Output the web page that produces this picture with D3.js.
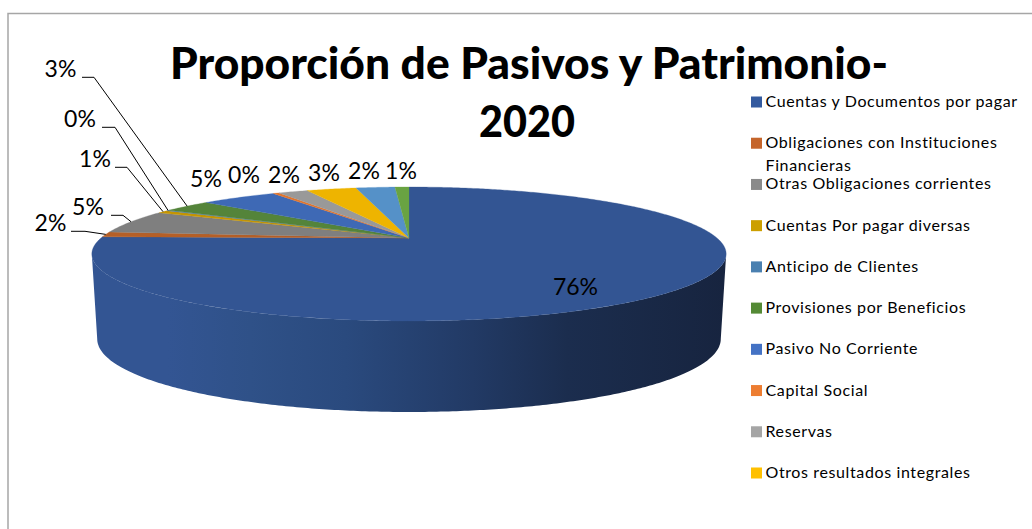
<!DOCTYPE html>
<html>
<head>
<meta charset="utf-8">
<style>
html,body{margin:0;padding:0;background:#fff}
svg{display:block}
text{font-family:Lato,"Open Sans",sans-serif;fill:#000}
</style>
<script src="https://d3js.org/d3.v7.min.js"></script>
</head>
<body>
<script>
const titleLines = ["Proporción de Pasivos y Patrimonio-", "2020"];
const legendLabels = [
  ["Cuentas y Documentos por pagar"],
  ["Obligaciones con Instituciones", "Financieras"],
  ["Otras Obligaciones corrientes"],
  ["Cuentas Por pagar diversas"],
  ["Anticipo de Clientes"],
  ["Provisiones por Beneficios"],
  ["Pasivo No Corriente"],
  ["Capital Social"],
  ["Reservas"],
  ["Otros resultados integrales"]
];
const legendColors = ["#335a9f","#c5652b","#8a8a8a","#cc9f00","#4a80b0","#548a35","#4472c4","#ed7d31","#a5a5a5","#ffc000"];
const sliceValues = [75.3, 1.25, 5.75, 0.7, 0.2, 3.05, 4.85, 0.4, 1.9, 3.2, 2.5, 0.9];
const sliceLabels = ["76%","2%","5%","1%","0%","3%","5%","0%","2%","3%","2%","1%"];
const sliceColors = ["#335593","#b55f27","#7f7f7f","#c69500","#4a7fb0","#54843a","#3e69b5","#e0752e","#999999","#eeb400","#5591c8","#69a342"];

const W = 1032, H = 529;
// layout: label anchor (centre x, baseline y) and leader elbow length per slice
const labelPlace = [
  {x:575.5,y:295},{x:50.5,y:231,lead:[71,85]},{x:88,y:215,lead:[111,123]},
  {x:95,y:167,lead:[115,127]},{x:80,y:127,lead:[102,115]},{x:60.5,y:77,lead:[82,94]},
  {x:206,y:187},{x:244,y:183},{x:284,y:183},{x:324,y:181},{x:364,y:179},{x:401,y:179}
];

const svg = d3.select("body").append("svg").attr("width",W).attr("height",H);

// chart frame
svg.append("path").attr("d","M8,529V13.5H1032").attr("fill","none").attr("stroke","#a6a6a6").attr("stroke-width",1.5);

// perspective projection of the pie's unit disc
const cx = 409, cy = 238, R = 308, persp = 0.2388, tilt = -6.34;
const project = (r, a) => {
  const s = Math.sin(a)*r, v = Math.cos(a)*r, w = 1 + persp*v;
  return [cx + R*s/w, (tilt*v + cy)/w];
};
const lowerRim = a => {
  const [x,y] = project(1,a), v = Math.cos(a);
  return [cx + (x-cx)*0.983, y + 83 + 8*Math.max(0,-v)];
};
const line = d3.line();
const arcPts = (a0,a1,f) => {
  const n = Math.max(2, Math.ceil(Math.abs(a1-a0)/0.01));
  return d3.range(n+1).map(i => f(a0 + (a1-a0)*i/n));
};

// d3.pie runs counter-clockwise here: angle measured left from 12 o'clock
const pie = d3.pie().value(d=>d).sort(null).startAngle(0).endAngle(-2*Math.PI);
const arcs = pie(sliceValues);

const defs = svg.append("defs");
const grad = defs.append("linearGradient").attr("id","wall").attr("gradientUnits","userSpaceOnUse")
  .attr("x1",92).attr("x2",726).attr("y1",0).attr("y2",0);
[[0,"#335593"],[0.12,"#335593"],[0.25,"#2f5188"],[0.4,"#2a4a7e"],[0.6,"#223a65"],[0.75,"#1b2d4e"],[1,"#17243f"]]
  .forEach(([o,c])=>grad.append("stop").attr("offset",o).attr("stop-color",c));

// side wall, silhouette to silhouette along the front
const aEdge = Math.acos(-persp);
const wallFront = arcPts(aEdge, 2*Math.PI-aEdge, a=>project(1,a));
const wallBack = arcPts(2*Math.PI-aEdge, aEdge, lowerRim);
svg.append("path").attr("d",line(wallFront.concat(wallBack))+"Z").attr("fill","url(#wall)");

// top face
svg.append("g").selectAll("path").data(arcs).join("path")
  .attr("d",d=>line([[cx,cy]].concat(arcPts(-d.startAngle,-d.endAngle,a=>project(1,a))))+"Z")
  .attr("fill",(d,i)=>sliceColors[i])
  .attr("stroke",(d,i)=>sliceColors[i]).attr("stroke-width",0.3);

// leaders
svg.append("g").selectAll("path").data(arcs.filter((d,i)=>labelPlace[i].lead)).join("path")
  .attr("d",d=>{
    const p = labelPlace[d.index], mid = -(d.startAngle+d.endAngle)/2;
    return line([[p.lead[0],p.y+0.3],[p.lead[1],p.y+0.3],project(1,mid)]);
  })
  .attr("fill","none").attr("stroke","#000").attr("stroke-width",1);

// data labels
svg.append("g").selectAll("text").data(sliceLabels).join("text")
  .attr("x",(d,i)=>labelPlace[i].x).attr("y",(d,i)=>labelPlace[i].y)
  .attr("text-anchor","middle").attr("font-size",23).text(d=>d);

// title
svg.append("text").attr("x",529).attr("y",79).attr("text-anchor","middle")
  .attr("font-size",44).attr("font-weight",900).attr("textLength",718).attr("lengthAdjust","spacingAndGlyphs").text(titleLines[0]);
svg.append("text").attr("x",527).attr("y",137).attr("text-anchor","middle")
  .attr("font-size",44).attr("font-weight",900).attr("textLength",96).attr("lengthAdjust","spacingAndGlyphs").text(titleLines[1]);

// legend
const rowY = d3.scalePoint().domain(d3.range(legendLabels.length)).range([102,473]);
const lg = svg.append("g").selectAll("g").data(legendLabels).join("g")
  .attr("transform",(d,i)=>`translate(751,${rowY(i)})`);
lg.append("rect").attr("y",-5.5).attr("width",11).attr("height",11).attr("fill",(d,i)=>legendColors[i]);
lg.each(function(lines){
  d3.select(this).selectAll("text").data(lines).join("text")
    .attr("x",14.5).attr("y",(d,i)=>5+i*22.5)
    .attr("font-size",16).attr("letter-spacing",0.62).text(d=>d);
});
</script>
</body>
</html>
